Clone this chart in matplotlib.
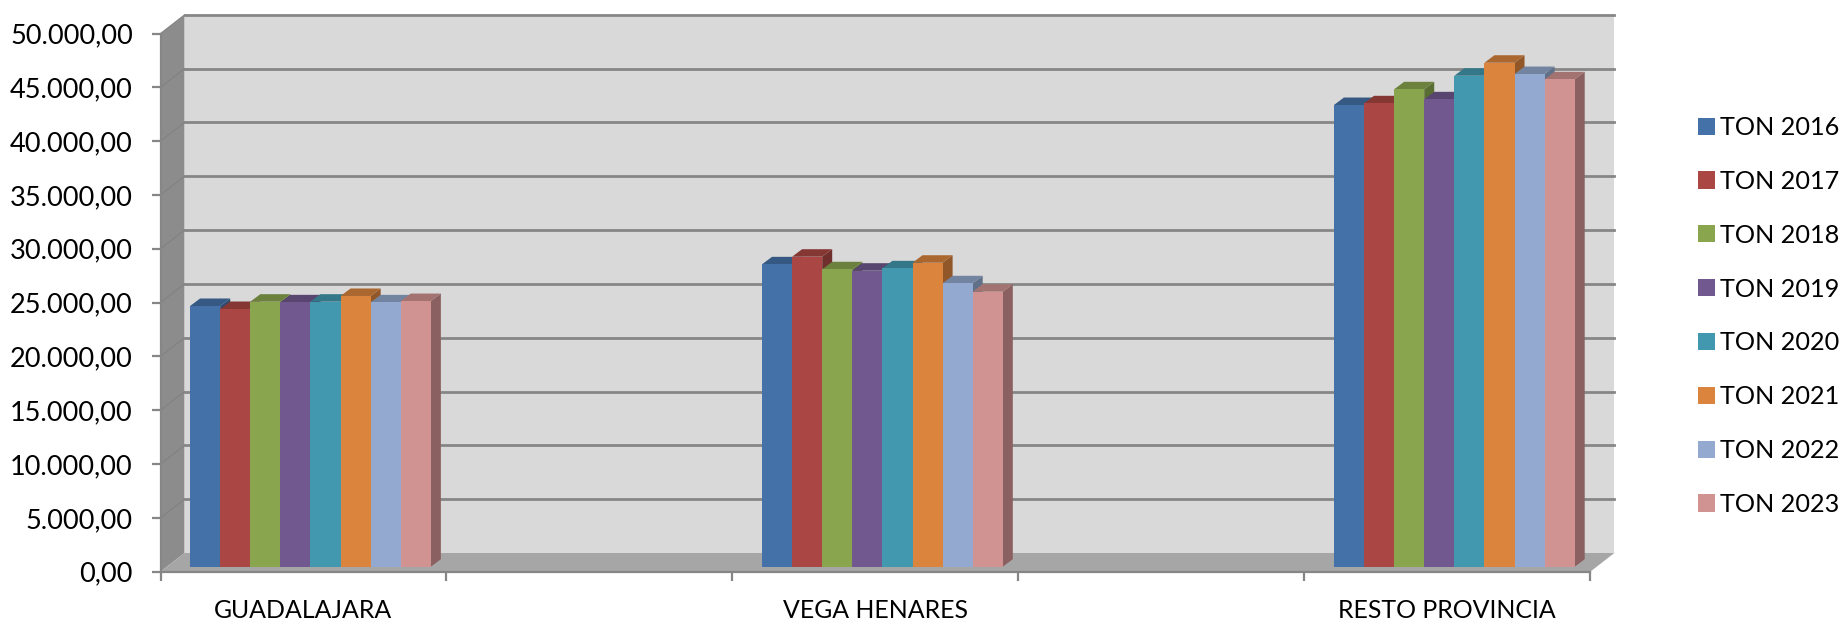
import matplotlib.pyplot as plt
from matplotlib.patches import Polygon, Patch
import numpy as np

plt.rcParams['font.family'] = ['Lato', 'DejaVu Sans']

categories = ["GUADALAJARA", "VEGA HENARES", "RESTO PROVINCIA"]
series_names = ["TON 2016", "TON 2017", "TON 2018", "TON 2019", "TON 2020", "TON 2021", "TON 2022", "TON 2023"]
guadalajara = [24220, 23940, 24620, 24560, 24620, 25150, 24560, 24680]
vega_henares = [28090, 28800, 27630, 27500, 27720, 28240, 26330, 25550]
resto_provincia = [42890, 43050, 44350, 43420, 45610, 46820, 45770, 45280]
y_ticks = [0, 5000, 10000, 15000, 20000, 25000, 30000, 35000, 40000, 45000, 50000]
y_labels = ["0,00", "5.000,00", "10.000,00", "15.000,00", "20.000,00", "25.000,00",
            "30.000,00", "35.000,00", "40.000,00", "45.000,00", "50.000,00"]
colors = ["#4472A8", "#AA4643", "#89A54E", "#71588F", "#4198AF", "#DB843D", "#93A9CF", "#D19392"]

W, H = 1845, 621
X0, X1, Y0, Y1 = 160.5, 1590.3, 571.7, 33.5
fig = plt.figure(figsize=(W / 100, H / 100), dpi=100)
ax = fig.add_axes([X0 / W, (H - Y0) / H, (X1 - X0) / W, (Y0 - Y1) / H])
ax.set_xlim(0, 5)
ax.set_ylim(0, 50000)
ax.patch.set_alpha(0)

# pixel sizes turned into data units, for the fake 3d depth
px_x = 5 / (X1 - X0)
px_y = 50000 / (Y0 - Y1)
wall_dx, wall_dy = 24 * px_x, 18.7 * px_y
bar_dx, bar_dy = 10 * px_x, 7.5 * px_y
shift_x, shift_y = 7 * px_x, 5 * px_y
bar_w = 30.1 * px_x
grid_color = "#868686"


def face(points, color, z):
    ax.add_patch(Polygon(points, closed=True, facecolor=color, edgecolor="none", clip_on=False, zorder=z))


def shade(color, f):
    rgb = np.array(plt.matplotlib.colors.to_rgb(color))
    return tuple(rgb * f)


# walls and floor
face([(wall_dx, wall_dy), (5 + wall_dx, wall_dy), (5 + wall_dx, 50000 + wall_dy), (wall_dx, 50000 + wall_dy)], "#D9D9D9", 1)
face([(0, 0), (wall_dx, wall_dy), (wall_dx, 50000 + wall_dy), (0, 50000)], "#8C8C8C", 1)
face([(0, 0), (5, 0), (5 + wall_dx, wall_dy), (wall_dx, wall_dy)], "#A6A6A6", 1)

for t in y_ticks[1:]:
    ax.plot([wall_dx, 5 + wall_dx], [t + wall_dy, t + wall_dy], color=grid_color, lw=2.0, clip_on=False, zorder=2)
    ax.plot([0, wall_dx], [t, t + wall_dy], color="#808080", lw=0.7, clip_on=False, zorder=2)

# bars, left to right so each one covers the side of the previous one
centers = [0.5, 2.5, 4.5]
for center, values in zip(centers, [guadalajara, vega_henares, resto_provincia]):
    x = center - 4 * bar_w + shift_x
    for v, c in zip(values, colors):
        l, r = x, x + bar_w
        b, t = shift_y, v + shift_y
        face([(r, b), (r + bar_dx, b + bar_dy), (r + bar_dx, t + bar_dy), (r, t)], shade(c, 0.66), 3)
        face([(l, t), (r, t), (r + bar_dx, t + bar_dy), (l + bar_dx, t + bar_dy)], shade(c, 0.78), 3)
        face([(l, b), (r, b), (r, t), (l, t)], c, 3)
        x += bar_w

for s in ["top", "right"]:
    ax.spines[s].set_visible(False)
for s in ["left", "bottom"]:
    ax.spines[s].set_color(grid_color)
    ax.spines[s].set_linewidth(1.6)
    ax.spines[s].set_zorder(4)

ax.set_yticks(y_ticks, y_labels)
ax.set_xticks(np.arange(6), [""] * 6)
ax.set_xticks(centers, categories, minor=True)
ax.tick_params(axis="y", length=6.5, width=1.6, color=grid_color, pad=13.5, labelsize=19.5, labelcolor="black")
ax.tick_params(axis="x", which="major", length=6.5, width=1.6, color=grid_color)
ax.tick_params(axis="x", which="minor", length=0, pad=20, labelsize=17.9, labelcolor="black")

handles = [Patch(facecolor=c, edgecolor="none", label=n) for c, n in zip(colors, series_names)]
fig.legend(handles=handles, loc="upper left", bbox_to_anchor=(1698 / W, (H - 116) / H), frameon=False,
           fontsize=18.2, handlelength=0.67, handleheight=0.67, handletextpad=0.21, labelspacing=1.22,
           borderpad=0, borderaxespad=0)

fig.savefig("out.png", dpi=100)
